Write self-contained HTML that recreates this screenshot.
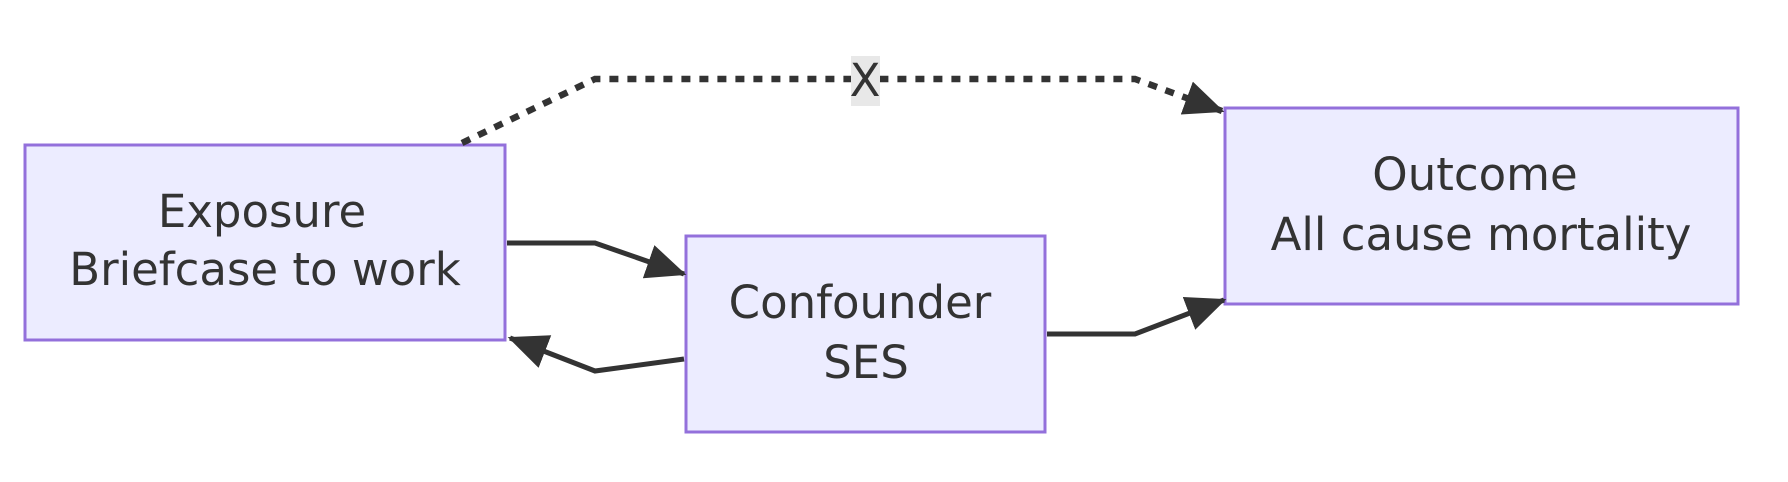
<!DOCTYPE html>
<html><head><meta charset="utf-8"><style>
html,body{margin:0;padding:0;background:#fff;}
svg{display:block;}
text{font-family:"DejaVu Sans","Liberation Sans",sans-serif;font-size:45px;fill:#333;}
</style></head><body>
<svg width="1788" height="482" viewBox="0 0 1788 482" xmlns="http://www.w3.org/2000/svg">
<defs>
<marker id="a" markerUnits="userSpaceOnUse" markerWidth="40" markerHeight="40" refX="30" refY="14" orient="auto" viewBox="0 0 32 28">
<path d="M0,0 L32,14 L0,28 z" fill="#333"/>
</marker>
</defs>
<rect x="25" y="145" width="480" height="195" fill="#ececff" stroke="#9370db" stroke-width="3"/>
<rect x="686" y="236" width="359" height="196" fill="#ececff" stroke="#9370db" stroke-width="3"/>
<rect x="1225" y="108" width="513" height="196" fill="#ececff" stroke="#9370db" stroke-width="3"/>
<g fill="none" stroke="#333" stroke-width="5">
<polyline points="507,243 595,243 684,274" marker-end="url(#a)"/>
<polyline points="684,359 595,371 510,338" marker-end="url(#a)"/>
<polyline points="1047,334 1135,334 1224,300" marker-end="url(#a)"/>
<polyline points="462,143 595,79 1135,79 1222,111" stroke-dasharray="9 9" stroke-width="6.5" marker-end="url(#a)"/>
</g>
<rect x="851" y="56" width="29" height="50" fill="#e8e8e8"/>
<text x="865" y="96" text-anchor="middle">X</text>
<text x="262" y="227" text-anchor="middle">Exposure</text>
<text x="265" y="285" text-anchor="middle">Briefcase to work</text>
<text x="860" y="318" text-anchor="middle">Confounder</text>
<text x="866" y="378" text-anchor="middle">SES</text>
<text x="1475" y="190" text-anchor="middle">Outcome</text>
<text x="1481" y="250" text-anchor="middle">All cause mortality</text>
</svg>
</body></html>
